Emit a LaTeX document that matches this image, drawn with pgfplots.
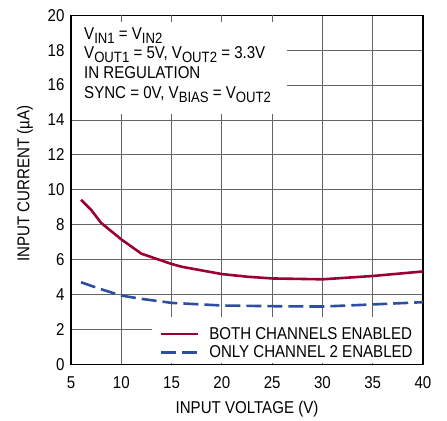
\documentclass[border=0pt]{standalone}
\usepackage{pgfplots}
\pgfplotsset{compat=1.18}
\usepackage{fontspec}
\setmainfont{Liberation Sans}[FakeStretch=0.88]

\definecolor{ltred}{RGB}{155,0,51}
\definecolor{ltblue}{RGB}{46,79,160}
\definecolor{gridgray}{RGB}{100,100,100}

\newcommand\txt{\fontsize{17.2}{17.2}\selectfont}
% subscripts as set in the datasheet annotation
\newcommand\sub[1]{\raisebox{-4bp}{\fontsize{15}{15}\selectfont #1}}

\begin{document}
\begin{tikzpicture}
\begin{axis}[
    scale only axis,
    width=352bp, height=349bp,
    xmin=5, xmax=40, ymin=0, ymax=20,
    xtick={5,10,...,40}, ytick={0,2,...,20},
    grid=major,
    major grid style={gridgray, line width=0.9bp},
    axis line style={black, line width=1.4bp},
    tick style={gridgray, line width=0.9bp},
    tick align=inside,
    xtick pos=both, ytick pos=left,
    major tick length=7bp,
    /pgf/number format/assume math mode=true,
    tick label style={font=\txt, black},
    xticklabel style={yshift=-9bp},
    yticklabel style={xshift=-3bp},
    xlabel={INPUT VOLTAGE (V)},
    ylabel={INPUT CURRENT (µA)},
    label style={font=\txt},
    xlabel style={at={(rel axis cs:0.5,0)}, anchor=center, yshift=-45bp},
    ylabel style={at={(rel axis cs:0,0.5)}, anchor=center, rotate=0, yshift=46bp, xshift=6bp},
    legend style={draw=none, fill=none, at={(axis cs:13.8,2.25)}, anchor=north west,
        font=\txt, inner sep=0pt, row sep=1bp, column sep=8bp},
    legend cell align=left,
    legend image code/.code={\draw[#1, line width=2.6bp] (0bp,0bp) -- (37bp,0bp);},
]
% white boxes behind the note and the legend
\fill[white] (axis cs:5.08,14.33) rectangle (axis cs:26.5,19.95);
\fill[white] (axis cs:13.1,0.05) rectangle (axis cs:39.93,2.7);
\pgfplotsinvokeforeach{10,15,20,25}{
  \draw[gridgray, line width=0.9bp] (axis cs:#1,20) -- ([yshift=-7bp]axis cs:#1,20);
}

% both channels enabled
\addplot[ltred, line width=2.6bp] coordinates {
  (6,9.43) (7,8.85) (8,8.1) (10,7.16) (12,6.34) (15,5.75) (16,5.59)
  (20,5.17) (22.5,5.02) (25,4.92) (30,4.87) (35,5.06) (40,5.32)
};
\addlegendentry{BOTH CHANNELS ENABLED}

% only channel 2 enabled
\addplot[ltblue, line width=2.6bp, dash pattern=on 15bp off 6bp] coordinates {
  (6,4.70) (8,4.30) (10,3.94) (12,3.75) (15,3.52) (20,3.37)
  (25,3.33) (30,3.31) (35,3.43) (40,3.56)
};
\addlegendentry{ONLY CHANNEL 2 ENABLED}

\node[anchor=north west, align=left, inner sep=0pt,
      font=\fontsize{17.2}{19.7}\selectfont]
  at ([xshift=13bp,yshift=-12bp]rel axis cs:0,1)
  {V\sub{IN1} = V\sub{IN2}\\
   V\sub{OUT1} = 5V, V\sub{OUT2} = 3.3V\\
   IN REGULATION\\
   SYNC = 0V, V\sub{BIAS} = V\sub{OUT2}};
\end{axis}
\pgfresetboundingbox
\useasboundingbox (-71bp,-56.7bp) rectangle (376bp,364.3bp);
\end{tikzpicture}
\end{document}
